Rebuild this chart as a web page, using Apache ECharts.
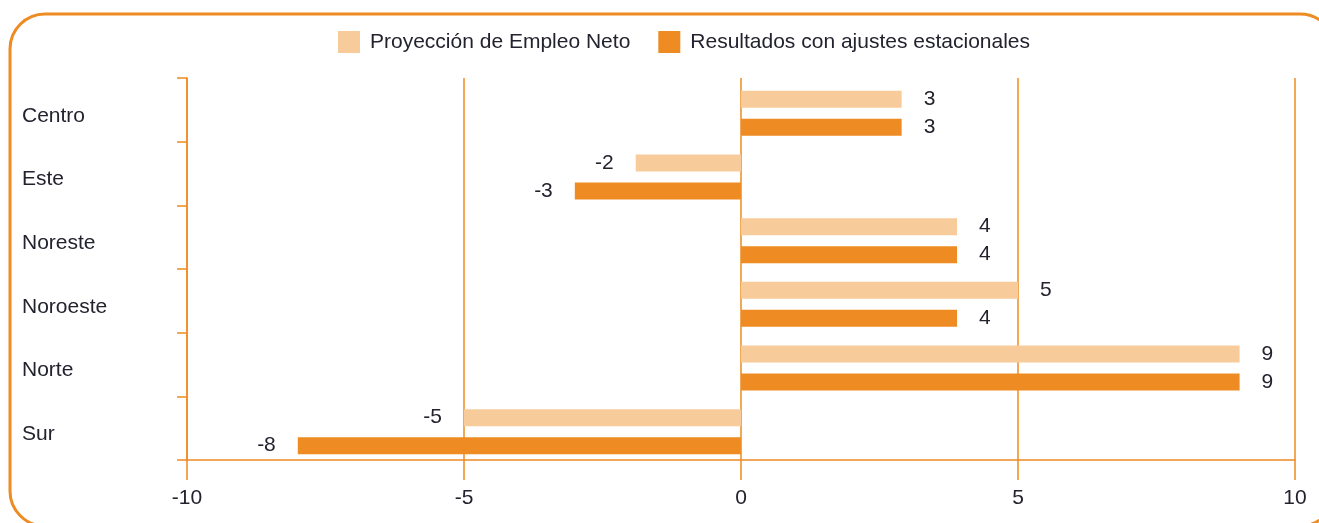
<!DOCTYPE html>
<html>
<head>
    <meta charset="utf-8">
    <title>Proyección de Empleo Neto por región</title>
    <script src="https://cdn.jsdelivr.net/npm/echarts@6/dist/echarts.min.js"></script>
    <style>
        html, body { margin: 0; padding: 0; background: #fff; }
        #chart { width: 1319px; height: 523px; }
    </style>
</head>
<body>
    <div id="chart"></div>
    <script>
        // datos (las etiquetas se muestran redondeadas)
        var regiones = ['Centro', 'Este', 'Noreste', 'Noroeste', 'Norte', 'Sur'];
        var proyeccion = [2.9, -1.9, 3.9, 5, 9, -5];
        var ajustados = [2.9, -3, 3.9, 3.9, 9, -8];
        var nombres = ['Proyección de Empleo Neto', 'Resultados con ajustes estacionales'];

        var naranja = '#EE8B22';
        var claro = '#F8CB9A';
        var texto = '#23232f';
        var fuente = 'Liberation Sans, Arial, sans-serif';

        function conEtiqueta(valores) {
            return valores.map(function (v) {
                return {
                    value: v,
                    label: { position: v < 0 ? 'left' : 'right' }
                };
            });
        }

        var etiqueta = {
            show: true,
            distance: 22,
            fontSize: 21,
            color: texto,
            formatter: function (p) { return Math.round(p.value); }
        };

        var chart = echarts.init(document.getElementById('chart'));
        chart.setOption({
            animation: false,
            textStyle: { fontFamily: fuente },
            graphic: [{
                type: 'rect',
                shape: { x: 10, y: 14, width: 1325, height: 512, r: 35 },
                style: { fill: 'none', stroke: naranja, lineWidth: 3 },
                z: -1
            }],
            legend: {
                data: nombres,
                left: 338,
                top: 31,
                padding: 0,
                itemWidth: 22,
                itemHeight: 22,
                itemGap: 28,
                icon: 'rect',
                textStyle: { fontSize: 21, color: texto, padding: [0, 0, 0, 5] }
            },
            // grid 0: ejes visibles; grid 1: barras (un poco más abajo, como en el original)
            grid: [
                { left: 187, right: 24, top: 78, bottom: 63 },
                { left: 187, right: 24, top: 81.5, bottom: 59.5 }
            ],
            xAxis: [
                {
                    type: 'value',
                    gridIndex: 0,
                    min: -10,
                    max: 10,
                    interval: 5,
                    axisLine: { show: true, onZero: false, lineStyle: { color: naranja, width: 1.5 } },
                    axisTick: { show: true, length: 20, lineStyle: { color: naranja, width: 1.5 } },
                    splitLine: { show: true, lineStyle: { color: naranja, width: 1.5 } },
                    axisLabel: { fontSize: 21, color: texto, margin: 28 }
                },
                {
                    type: 'value',
                    gridIndex: 1,
                    min: -10,
                    max: 10,
                    interval: 5,
                    show: false
                }
            ],
            yAxis: [
                {
                    type: 'category',
                    gridIndex: 0,
                    data: regiones,
                    inverse: true,
                    axisLine: { show: true, onZero: false, lineStyle: { color: naranja, width: 1.5 } },
                    axisTick: { show: true, length: 10, lineStyle: { color: naranja, width: 1.5 } },
                    axisLabel: {
                        color: texto,
                        align: 'left',
                        margin: 165,
                        formatter: function (v) { return '{r|' + v + '}'; },
                        rich: { r: { fontSize: 21, color: texto, padding: [12, 0, 0, 0] } }
                    }
                },
                {
                    type: 'category',
                    gridIndex: 1,
                    data: regiones,
                    inverse: true,
                    show: false
                }
            ],
            series: [
                {
                    name: nombres[0],
                    type: 'bar',
                    xAxisIndex: 1,
                    yAxisIndex: 1,
                    data: conEtiqueta(proyeccion),
                    barWidth: 17,
                    barGap: '65%',
                    itemStyle: { color: claro },
                    label: etiqueta
                },
                {
                    name: nombres[1],
                    type: 'bar',
                    xAxisIndex: 1,
                    yAxisIndex: 1,
                    data: conEtiqueta(ajustados),
                    barWidth: 17,
                    itemStyle: { color: naranja },
                    label: etiqueta
                }
            ]
        });
    </script>
</body>
</html>
